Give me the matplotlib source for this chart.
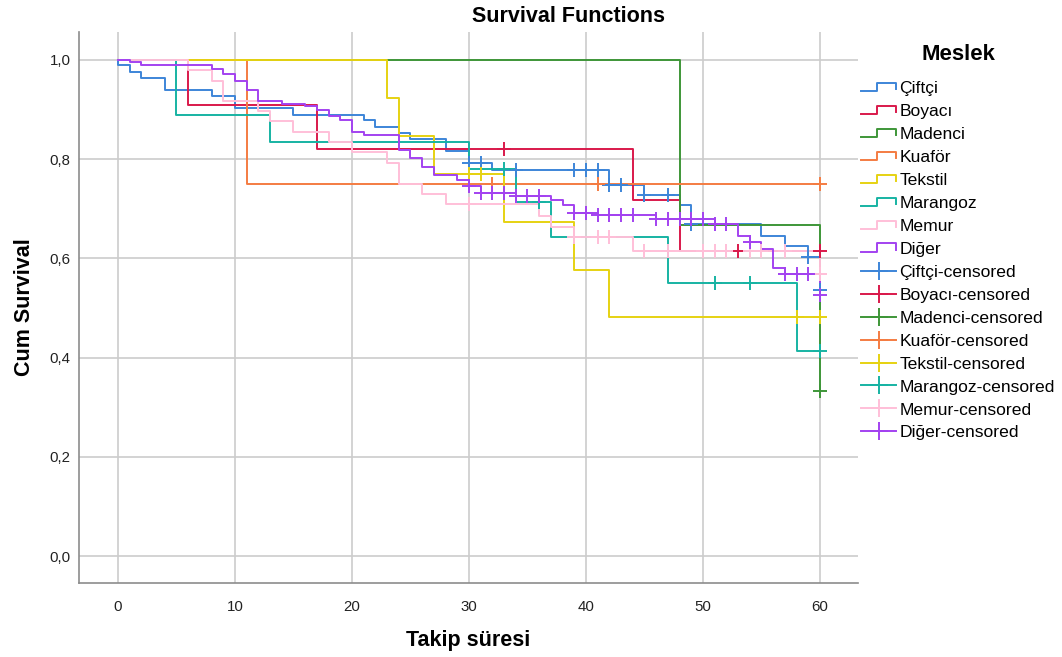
import matplotlib

matplotlib.use("Agg")

import matplotlib.pyplot as plt
import numpy as np
from matplotlib.legend_handler import HandlerBase
from matplotlib.lines import Line2D

plt.rcParams["font.family"] = ["Liberation Sans", "DejaVu Sans"]

groups = ["Çiftçi", "Boyacı", "Madenci", "Kuaför", "Tekstil", "Marangoz", "Memur", "Diğer"]
colors = ["#3d85d8", "#d9194b", "#3e9638", "#f47c42", "#e6d212", "#17b3a3", "#ffbfd8", "#a342f0"]

# event times and survival after each step, per group
ciftci_t = [0, 1, 2, 4, 8, 10, 15, 21, 22, 24, 25, 28, 30, 32, 42, 45, 48, 49, 55, 57, 59, 60]
ciftci_s = [0.990, 0.976, 0.964, 0.940, 0.927, 0.903, 0.889, 0.878, 0.864, 0.852, 0.841,
            0.817, 0.792, 0.778, 0.747, 0.728, 0.708, 0.669, 0.645, 0.624, 0.602, 0.536]
ciftci_c = [30, 31, 34, 39, 40, 41, 42, 43, 45, 47, 49, 59, 60]

boyaci_t = [6, 17, 44, 48]
boyaci_s = [0.909, 0.820, 0.718, 0.615]
boyaci_c = [33, 53, 60]

madenci_t = [48, 60]
madenci_s = [0.667, 0.333]
madenci_c = [60]

kuafor_t = [11]
kuafor_s = [0.750]
kuafor_c = [32, 41, 60]

tekstil_t = [23, 24, 27, 33, 39, 42]
tekstil_s = [0.924, 0.847, 0.770, 0.674, 0.577, 0.481]
tekstil_c = [30, 31, 58, 60]

marangoz_t = [5, 13, 30, 34, 37, 47, 58]
marangoz_s = [0.889, 0.835, 0.780, 0.714, 0.643, 0.551, 0.413]
marangoz_c = [33, 36, 51, 54, 60]

memur_t = [6, 8, 9, 12, 13, 15, 18, 20, 23, 24, 26, 28, 36, 37, 39, 44, 60]
memur_s = [0.980, 0.958, 0.916, 0.896, 0.876, 0.855, 0.835, 0.815, 0.793, 0.750, 0.730,
           0.710, 0.685, 0.663, 0.643, 0.615, 0.568]
memur_c = [30, 39, 41, 42, 45, 47, 50, 51, 52, 54, 55, 57, 60]

diger_t = [1, 2, 8, 9, 10, 11, 12, 14, 16, 17, 18, 19, 20, 21, 24, 25, 26, 27, 29, 30, 31,
           34, 37, 38, 39, 41, 46, 51, 53, 54, 55, 56, 57, 60]
diger_s = [0.995, 0.990, 0.981, 0.972, 0.958, 0.940, 0.916, 0.911, 0.906, 0.898, 0.886,
           0.879, 0.854, 0.848, 0.819, 0.802, 0.783, 0.768, 0.757, 0.745, 0.731, 0.725,
           0.718, 0.708, 0.692, 0.688, 0.679, 0.669, 0.645, 0.632, 0.618, 0.581, 0.569, 0.526]
diger_c = [30, 31, 32, 33, 34, 35, 36, 39, 40, 41, 42, 43, 44, 46, 47, 48, 49, 50, 51, 52,
           54, 57, 58, 59, 60]

event_times = [ciftci_t, boyaci_t, madenci_t, kuafor_t, tekstil_t, marangoz_t, memur_t, diger_t]
survival = [ciftci_s, boyaci_s, madenci_s, kuafor_s, tekstil_s, marangoz_s, memur_s, diger_s]
censored = [ciftci_c, boyaci_c, madenci_c, kuafor_c, tekstil_c, marangoz_c, memur_c, diger_c]

x_ticks = [0, 10, 20, 30, 40, 50, 60]
y_ticks = [0.0, 0.2, 0.4, 0.6, 0.8, 1.0]


class StepHandler(HandlerBase):
    def create_artists(self, legend, orig_handle, xdescent, ydescent, width, height, fontsize, trans):
        xs = np.array([0, 0.45, 0.45, 1, 1]) * width - xdescent
        ys = np.array([0.15, 0.15, 0.85, 0.85, 0.35]) * height - ydescent
        line = Line2D(xs, ys, color=orig_handle.get_color(), lw=orig_handle.get_linewidth())
        line.set_transform(trans)
        return [line]


W, H = 1062, 657
fig = plt.figure(figsize=(W / 100, H / 100), dpi=100)
ax = fig.add_axes([79 / W, 1 - 583 / H, (858 - 79) / W, (583 - 32) / H])

for t, s, c, col in zip(event_times, survival, censored, colors):
    end = max(t + c)
    xs = [0] + t + [end]
    ys = [1.0] + s + [s[-1]]
    ax.step(xs, ys, where="post", color=col, lw=1.4, zorder=3)

for t, s, c, col in zip(event_times, survival, censored, colors):
    t_arr = np.array(t)
    s_arr = np.array([1.0] + s)
    idx = np.searchsorted(t_arr, c, side="right")
    ax.plot(c, s_arr[idx], ls="none", marker="+", markersize=10, mew=1.4, color=col, zorder=4)

ax.set_xlim(-3.33, 63.25)
ax.set_ylim(-0.0544, 1.056)
ax.set_xticks(x_ticks)
ax.set_yticks(y_ticks)
ax.set_yticklabels([f"{v:.1f}".replace(".", ",") for v in y_ticks])
ax.tick_params(axis="both", length=0, labelsize=10.8, colors="#222222")
ax.tick_params(axis="x", pad=12)
ax.tick_params(axis="y", pad=6)
ax.grid(True, color="#cccccc", lw=1.2)
ax.set_axisbelow(True)
for side in ["top", "right"]:
    ax.spines[side].set_visible(False)
for side in ["left", "bottom"]:
    ax.spines[side].set_color("#8c8c8c")
    ax.spines[side].set_linewidth(1.2)

ax.set_xlabel("Takip süresi", fontsize=15.5, fontweight="bold")
ax.set_ylabel("Cum Survival", fontsize=15.5, fontweight="bold")
ax.xaxis.set_label_coords(0.5, -0.086)
ax.yaxis.set_label_coords(-0.057, 0.5)
fig.text(569 / W, 1 - 17 / H, "Survival Functions", ha="center", va="center",
         fontsize=15.5, fontweight="bold")

# legend title drawn separately to get the wider gap above the entries
fig.text(958 / W, 1 - 54 / H, "Meslek", ha="center", va="center", fontsize=16, fontweight="bold")

step_handles = [Line2D([], [], color=col, lw=1.4) for col in colors]
cross_handles = [Line2D([], [], color=col, lw=1.4, marker="+", markersize=13, mew=1.4)
                 for col in colors]
labels = groups + [f"{g}-censored" for g in groups]
fig.legend(
    step_handles + cross_handles,
    labels,
    loc="upper left",
    bbox_to_anchor=(861 / W, 1 - 81 / H),
    frameon=False,
    fontsize=12.6,
    handlelength=2.0,
    handletextpad=0.2,
    labelspacing=0.44,
    borderaxespad=0,
    borderpad=0,
    handler_map={h: StepHandler() for h in step_handles},
)

fig.savefig("out.png", dpi=100)
